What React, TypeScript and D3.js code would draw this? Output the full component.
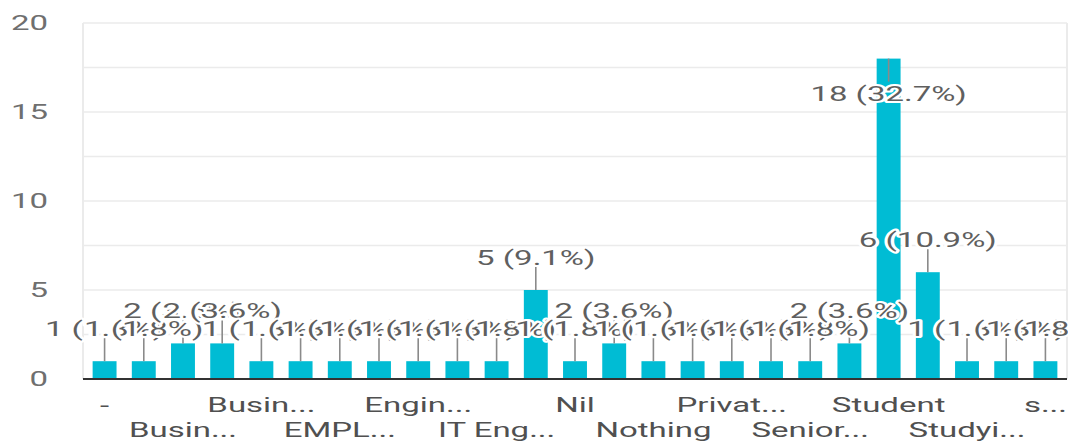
import React from 'react';
import * as d3 from 'd3';

// Occupation survey: one bar per answer, annotated with count and share.
const categories = [
  '-', 'Banker', 'Busin...', 'Business', 'Busin...', 'Doctor', 'EMPL...', 'Employee',
  'Engin...', 'Homemaker', 'IT Eng...', 'Job', 'Nil', 'No job', 'Nothing', 'Officer',
  'Privat...', 'Self employed', 'Senior...', 'Software...', 'Student', 'Students',
  'Studyi...', 'Teacher', 's...',
];
const responses = [1, 1, 2, 2, 1, 1, 1, 1, 1, 1, 1, 5, 1, 2, 1, 1, 1, 1, 1, 2, 18, 6, 1, 1, 1];
const yTicks = [0, 5, 10, 15, 20];
const gridValues = [0, 2.5, 5, 7.5, 10, 12.5, 15, 17.5, 20];

const W = 1075;
const H = 444;
const LEFT = 83;
const RIGHT = 1067;
const TOP = 23;
const BASE = 379;
const SX = 1.65; // horizontal stretch of all text
const FONT = 'Roboto, "Noto Sans", sans-serif';
const BAR = '#00bcd4';
const STEM = 23;

export default function App() {
  const keys = categories.map((_, i) => String(i));
  const x = d3.scaleBand().domain(keys).range([84, 1066]).paddingInner(0.39).paddingOuter(0.22);
  const y = d3.scaleLinear().domain([0, 20]).range([BASE, TOP]);
  const total = d3.sum(responses);
  const pct = d3.format('.1f');

  const bars = responses.map((v, i) => {
    const x0 = x(String(i)) as number;
    const cx = x0 + x.bandwidth() / 2;
    const top = y(v);
    const above = top - STEM - 2 - 15 >= TOP;
    return { v, i, x0, cx, top, above };
  });

  const textAt = (tx: number, ty: number) => `translate(${tx},${ty}) scale(${SX},1)`;

  return (
    <svg width={W} height={H} style={{ position: 'absolute', left: 0, top: 0, background: '#fff' }}>
      <defs>
        <clipPath id="annot-clip">
          <rect x={0} y={0} width={RIGHT + 1} height={H} />
        </clipPath>
      </defs>

      {/* horizontal gridlines */}
      {gridValues.map((g) => (
        <line key={g} x1={LEFT} x2={RIGHT} y1={y(g)} y2={y(g)} stroke="#ebebeb" strokeWidth={1.5} />
      ))}
      <line x1={LEFT} x2={LEFT} y1={TOP} y2={BASE} stroke="#ebebeb" strokeWidth={2} />
      <line x1={RIGHT} x2={RIGHT} y1={TOP} y2={BASE} stroke="#ebebeb" strokeWidth={2} />

      {/* y tick labels */}
      {yTicks.map((t) => (
        <text key={t} transform={textAt(48, y(t) + 7)} textAnchor="end" fontFamily={FONT}
          fontSize={20} fill="#6f6f6f">{t}</text>
      ))}

      {/* bars */}
      {bars.map((b) => (
        <rect key={b.i} x={b.x0} y={b.top} width={x.bandwidth()} height={BASE - b.top} fill={BAR} />
      ))}

      {/* baseline */}
      <line x1={LEFT} x2={RIGHT} y1={BASE} y2={BASE} stroke="#333" strokeWidth={2} />

      <g clipPath="url(#annot-clip)">
        {/* annotation stems */}
        {bars.map((b) => (
          <line key={b.i} x1={b.cx} x2={b.cx} y1={b.top}
            y2={b.above ? b.top - STEM : b.top + STEM} stroke="#8a8a8a" strokeWidth={1.6} />
        ))}

        {/* annotation labels */}
        {bars.map((b) => (
          <text key={b.i} transform={textAt(b.cx, b.above ? b.top - STEM - 2 : b.top + STEM + 19)}
            textAnchor="middle" fontFamily={FONT} fontSize={20} fill="#5f5f5f"
            stroke="#fff" strokeWidth={4} strokeLinejoin="round" style={{ paintOrder: 'stroke' }}>
            {`${b.v} (${pct((b.v / total) * 100)}%)`}
          </text>
        ))}
      </g>

      {/* category labels, every other one, alternating rows */}
      {bars.filter((b) => b.i % 2 === 0).map((b) => (
        <text key={b.i} transform={textAt(b.cx, (b.i / 2) % 2 === 0 ? 412 : 437)} textAnchor="middle"
          fontFamily={FONT} fontSize={20} fill="#505050">{categories[b.i]}</text>
      ))}
    </svg>
  );
}
